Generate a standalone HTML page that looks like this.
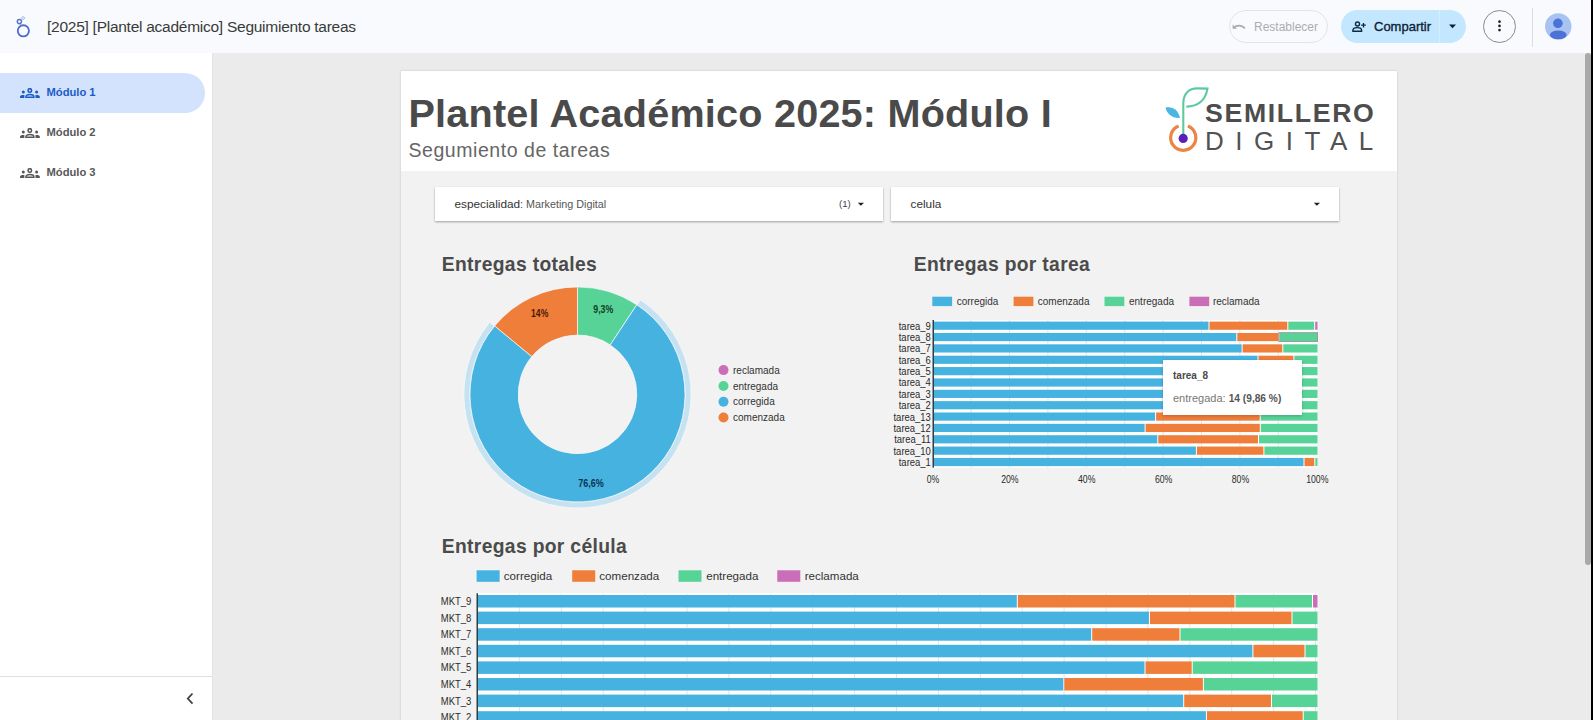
<!DOCTYPE html>
<html><head><meta charset="utf-8"><style>
*{box-sizing:border-box;margin:0;padding:0}
html,body{width:1593px;height:720px;overflow:hidden;background:#ebebeb;font-family:"Liberation Sans",sans-serif;}
.abs{position:absolute}
svg text{font-family:"Liberation Sans",sans-serif;}
.t{position:absolute;white-space:nowrap;line-height:1}
</style></head><body>
<!-- header -->
<div class="abs" style="left:0;top:0;width:1593px;height:53px;background:#f8fafd"></div>
<svg class="abs" style="left:0;top:0" width="60" height="53">
  <circle cx="23.35" cy="30.85" r="5.6" fill="none" stroke="#4a6bcc" stroke-width="1.8"/>
  <line x1="20.6" y1="23.9" x2="21.6" y2="25.4" stroke="#8aa6e0" stroke-width="1"/>
  <circle cx="19.4" cy="21.6" r="2.1" fill="none" stroke="#5a70c2" stroke-width="1.4"/>
  <circle cx="23.1" cy="18.05" r="1.35" fill="none" stroke="#9cc0ea" stroke-width="1"/>
</svg>
<div class="t" style="left:47px;top:18.8px;font-size:15.5px;letter-spacing:-0.26px;color:#3a3a3a">[2025] [Plantel académico] Seguimiento tareas</div>

<div class="abs" style="left:1229px;top:10px;width:99px;height:33px;border:1px solid #e3e3e6;border-radius:17px"></div>
<svg class="abs" style="left:1230px;top:19px" width="18" height="16" viewBox="0 0 18 16">
  <path d="M4.2 8.3 C7 5.8 11.5 5.8 15 9.3" fill="none" stroke="#ababab" stroke-width="1.8"/>
  <path d="M2.6 5.6 L2.6 9.8 L7 9.8 Z" fill="#ababab"/>
</svg>
<div class="t" style="left:1254px;top:21px;font-size:12px;color:#adadad">Restablecer</div>

<div class="abs" style="left:1341px;top:10px;width:125px;height:33px;background:#c2e7ff;border-radius:17px"></div>
<div class="abs" style="left:1439px;top:10px;width:1px;height:33px;background:#d6efff"></div>
<svg class="abs" style="left:1350px;top:18px" width="18" height="16" viewBox="0 0 18 16">
  <circle cx="7.5" cy="6" r="2" fill="none" stroke="#0e2a40" stroke-width="1.4"/>
  <path d="M2.9 13.3 L2.9 12.3 C2.9 10.5 5 9.6 7.3 9.6 C9.6 9.6 11.6 10.5 11.6 12.3 L11.6 13.3 Z" fill="none" stroke="#0e2a40" stroke-width="1.4"/>
  <path d="M13.5 4.9 L13.5 9.5 M11.2 7.2 L15.8 7.2" stroke="#0e2a40" stroke-width="1.3"/>
</svg>
<div class="t" style="left:1374px;top:19.5px;font-size:13px;color:#0e2236;font-weight:400;-webkit-text-stroke:0.35px #0e2236">Compartir</div>
<svg class="abs" style="left:1447px;top:23px" width="12" height="6"><path d="M2 1.6 L9 1.6 L5.5 5.2 Z" fill="#0e2236"/></svg>

<div class="abs" style="left:1483px;top:10px;width:33px;height:33px;border:1px solid #8a8a8a;border-radius:50%"></div>
<svg class="abs" style="left:1490px;top:15px" width="20" height="22">
  <circle cx="9.5" cy="6.7" r="1.35" fill="#222"/><circle cx="9.5" cy="10.9" r="1.35" fill="#222"/><circle cx="9.5" cy="15.1" r="1.35" fill="#222"/>
</svg>
<div class="abs" style="left:1532px;top:8px;width:1px;height:39px;background:#dcdde0"></div>
<svg class="abs" style="left:1540px;top:8px" width="36" height="36" viewBox="1540 8 36 36">
  <circle cx="1558.25" cy="26.4" r="13.2" fill="#a8c3f2"/>
  <circle cx="1557.9" cy="23.3" r="4.8" fill="#4a72d8"/>
  <ellipse cx="1558.25" cy="34.8" rx="8.4" ry="4.4" fill="#4a72d8"/>
</svg>

<!-- sidebar -->
<div class="abs" style="left:0;top:53px;width:212px;height:667px;background:#fff"></div>
<div class="abs" style="left:212px;top:53px;width:1px;height:667px;background:#e3e3e3"></div>
<div class="abs" style="left:0;top:73px;width:205px;height:40px;background:#d3e3fd;border-radius:0 20px 20px 0"></div>
<svg class="abs" style="left:20px;top:87.8px" width="20" height="11" viewBox="0 0 20 11">
  <circle cx="9.8" cy="2.4" r="1.75" fill="none" stroke="#1b5bc6" stroke-width="1.5"/>
  <path d="M5.9 9.3 L5.9 8.9 C5.9 7.2 7.7 6.6 9.9 6.6 C12.1 6.6 13.9 7.2 13.9 8.9 L13.9 9.3 Z" fill="none" stroke="#1b5bc6" stroke-width="1.5"/>
  <circle cx="3.3" cy="3.9" r="1.5" fill="#1b5bc6"/><path d="M0 10 L0 8.7 C0 7.6 1.3 7.1 3.3 7.1 L4.4 7.1 L4.4 10 Z" fill="#1b5bc6"/>
  <circle cx="16.6" cy="3.9" r="1.5" fill="#1b5bc6"/><path d="M19.8 10 L19.8 8.7 C19.8 7.6 18.5 7.1 16.6 7.1 L15.5 7.1 L15.5 10 Z" fill="#1b5bc6"/>
</svg><div class="t" style="left:46.5px;top:87.0px;font-size:11.2px;font-weight:700;color:#1b5bc6">Módulo 1</div>
<svg class="abs" style="left:20px;top:127.8px" width="20" height="11" viewBox="0 0 20 11">
  <circle cx="9.8" cy="2.4" r="1.75" fill="none" stroke="#585858" stroke-width="1.5"/>
  <path d="M5.9 9.3 L5.9 8.9 C5.9 7.2 7.7 6.6 9.9 6.6 C12.1 6.6 13.9 7.2 13.9 8.9 L13.9 9.3 Z" fill="none" stroke="#585858" stroke-width="1.5"/>
  <circle cx="3.3" cy="3.9" r="1.5" fill="#585858"/><path d="M0 10 L0 8.7 C0 7.6 1.3 7.1 3.3 7.1 L4.4 7.1 L4.4 10 Z" fill="#585858"/>
  <circle cx="16.6" cy="3.9" r="1.5" fill="#585858"/><path d="M19.8 10 L19.8 8.7 C19.8 7.6 18.5 7.1 16.6 7.1 L15.5 7.1 L15.5 10 Z" fill="#585858"/>
</svg><div class="t" style="left:46.5px;top:127.0px;font-size:11.2px;font-weight:700;color:#585858">Módulo 2</div>
<svg class="abs" style="left:20px;top:167.79999999999998px" width="20" height="11" viewBox="0 0 20 11">
  <circle cx="9.8" cy="2.4" r="1.75" fill="none" stroke="#585858" stroke-width="1.5"/>
  <path d="M5.9 9.3 L5.9 8.9 C5.9 7.2 7.7 6.6 9.9 6.6 C12.1 6.6 13.9 7.2 13.9 8.9 L13.9 9.3 Z" fill="none" stroke="#585858" stroke-width="1.5"/>
  <circle cx="3.3" cy="3.9" r="1.5" fill="#585858"/><path d="M0 10 L0 8.7 C0 7.6 1.3 7.1 3.3 7.1 L4.4 7.1 L4.4 10 Z" fill="#585858"/>
  <circle cx="16.6" cy="3.9" r="1.5" fill="#585858"/><path d="M19.8 10 L19.8 8.7 C19.8 7.6 18.5 7.1 16.6 7.1 L15.5 7.1 L15.5 10 Z" fill="#585858"/>
</svg><div class="t" style="left:46.5px;top:167.0px;font-size:11.2px;font-weight:700;color:#585858">Módulo 3</div>
<div class="abs" style="left:0;top:676px;width:212px;height:1px;background:#e0e0e0"></div>
<svg class="abs" style="left:184px;top:690px" width="12" height="16"><path d="M8.5 3.5 L3.8 8.6 L8.5 13.7" fill="none" stroke="#444" stroke-width="1.8"/></svg>

<!-- scrollbar -->
<div class="abs" style="left:1591px;top:0;width:2px;height:720px;background:#000"></div>
<div class="abs" style="left:1585px;top:53px;width:5.5px;height:512px;background:#a9a9a9;border-radius:3px"></div>

<!-- canvas -->
<div class="abs" style="left:401px;top:71px;width:996px;height:660px;background:#f2f2f2;box-shadow:0 0 2px rgba(0,0,0,0.18)"></div>
<div class="abs" style="left:401px;top:71px;width:996px;height:100px;background:#fff"></div>
<div class="t" style="left:408.5px;top:94px;font-size:39.6px;letter-spacing:0.22px;font-weight:700;color:#4a4a4a">Plantel Académico 2025: Módulo I</div>
<div class="t" style="left:408.5px;top:140.5px;font-size:19.5px;color:#666;letter-spacing:0.55px">Segumiento de tareas</div>
<svg class="abs" style="left:1150px;top:80px" width="240" height="85" viewBox="1150 80 240 85">
  <path d="M1183.3 134 L1183.3 103.5 C1183.3 93 1189.5 88.2 1197.5 88.4 L1207.5 88.6 C1205.5 100 1199 106.3 1186.3 106.6" fill="none" stroke="#5ccaa0" stroke-width="2.1"/>
  <path d="M1165.5 107.5 C1172 106 1178 109 1180 118 C1172 118.5 1167 114 1165.5 107.5 Z" fill="#4bb6e0"/>
  <path d="M1178.6 126 A12.6 12.6 0 1 0 1187.9 126" fill="none" stroke="#ec8444" stroke-width="3.2"/>
  <circle cx="1183.2" cy="138.4" r="4.6" fill="#5a1fb8"/>
</svg>
<div class="t" style="left:1205px;top:99.7px;font-size:26.7px;font-weight:700;color:#4d4d4d;letter-spacing:1.65px">SEMILLERO</div>
<div class="t" style="left:1205px;top:127.7px;font-size:26px;font-weight:400;color:#525252;letter-spacing:11.5px">DIGITAL</div>

<!-- filters -->
<div class="abs" style="left:435px;top:187px;width:448px;height:34px;background:#fff;box-shadow:0 1px 2px rgba(0,0,0,0.35)"></div>
<div class="abs" style="left:891px;top:187px;width:448px;height:34px;background:#fff;box-shadow:0 1px 2px rgba(0,0,0,0.35)"></div>
<div class="t" style="left:454.5px;top:199px;font-size:11.8px;color:#333">especialidad<span style="font-size:10.75px;color:#555">: Marketing Digital</span></div>
<div class="t" style="left:839px;top:199px;font-size:9.6px;color:#444">(1)</div>
<svg class="abs" style="left:857px;top:202px" width="8" height="5"><path d="M0.8 0.8 L7 0.8 L3.9 3.8 Z" fill="#222"/></svg>
<div class="t" style="left:910.5px;top:198.8px;font-size:11.8px;color:#333">celula</div>
<svg class="abs" style="left:1313px;top:202px" width="8" height="5"><path d="M0.8 0.8 L7 0.8 L3.9 3.8 Z" fill="#222"/></svg>

<!-- section titles -->
<div class="t" style="left:441.8px;top:254.6px;font-size:19.3px;letter-spacing:0.33px;font-weight:700;color:#4b4b4b">Entregas totales</div>
<div class="t" style="left:913.8px;top:254.6px;font-size:19.3px;letter-spacing:0.33px;font-weight:700;color:#4b4b4b">Entregas por tarea</div>
<div class="t" style="left:441.8px;top:536.6px;font-size:19.3px;letter-spacing:0.33px;font-weight:700;color:#4b4b4b">Entregas por célula</div>
<svg class="abs" style="left:0;top:0" width="1593" height="720" viewBox="0 0 1593 720"><path d="M640.50,299.87 A113.6,113.6 0 1 1 489.72,322.29 L494.35,326.10 A107.6,107.6 0 1 0 637.17,304.86 Z" fill="#c6e2f0" stroke="#f7fbfd" stroke-width="0.7"/><path d="M577.50,286.90 A107.5,107.5 0 0 1 636.80,304.74 L610.21,344.94 A59.3,59.3 0 0 0 577.50,335.10 Z" fill="#58d398" stroke="#f7fbfd" stroke-width="0.7"/><path d="M636.80,304.74 A107.5,107.5 0 1 1 494.67,325.88 L531.81,356.60 A59.3,59.3 0 1 0 610.21,344.94 Z" fill="#45b2e0" stroke="#f7fbfd" stroke-width="0.7"/><path d="M494.67,325.88 A107.5,107.5 0 0 1 577.50,286.90 L577.50,335.10 A59.3,59.3 0 0 0 531.81,356.60 Z" fill="#ef7e3a" stroke="#f7fbfd" stroke-width="0.7"/><text x="603.3" y="312.6" font-size="10" fill="#123d22" font-weight="700" text-anchor="middle" textLength="20" lengthAdjust="spacingAndGlyphs">9,3%</text><text x="539.7" y="317.3" font-size="10" fill="#4a1a05" font-weight="700" text-anchor="middle" textLength="17.2" lengthAdjust="spacingAndGlyphs">14%</text><text x="590.9" y="487.1" font-size="10" fill="#0b3350" font-weight="700" text-anchor="middle" textLength="25.5" lengthAdjust="spacingAndGlyphs">76,6%</text><circle cx="723.5" cy="370.1" r="5" fill="#cb6eb8"/><text x="733" y="373.6" font-size="10" fill="#333" font-weight="400" text-anchor="start" >reclamada</text><circle cx="723.5" cy="386" r="5" fill="#58d398"/><text x="733" y="389.5" font-size="10" fill="#333" font-weight="400" text-anchor="start" >entregada</text><circle cx="723.5" cy="401.7" r="5" fill="#45b2e0"/><text x="733" y="405.2" font-size="10" fill="#333" font-weight="400" text-anchor="start" >corregida</text><circle cx="723.5" cy="417.5" r="5" fill="#ef7e3a"/><text x="733" y="421.0" font-size="10" fill="#333" font-weight="400" text-anchor="start" >comenzada</text><rect x="934" y="320.10" width="383.50" height="11.20" fill="#ffffff"/><rect x="934" y="331.46" width="383.50" height="11.20" fill="#ffffff"/><rect x="934" y="342.82" width="383.50" height="11.20" fill="#ffffff"/><rect x="934" y="354.18" width="383.50" height="11.20" fill="#ffffff"/><rect x="934" y="365.54" width="383.50" height="11.20" fill="#ffffff"/><rect x="934" y="376.90" width="383.50" height="11.20" fill="#ffffff"/><rect x="934" y="388.26" width="383.50" height="11.20" fill="#ffffff"/><rect x="934" y="399.62" width="383.50" height="11.20" fill="#ffffff"/><rect x="934" y="410.98" width="383.50" height="11.20" fill="#ffffff"/><rect x="934" y="422.34" width="383.50" height="11.20" fill="#ffffff"/><rect x="934" y="433.70" width="383.50" height="11.20" fill="#ffffff"/><rect x="934" y="445.06" width="383.50" height="11.20" fill="#ffffff"/><rect x="934" y="456.42" width="383.50" height="11.20" fill="#ffffff"/><line x1="971.10" y1="320" x2="971.10" y2="467.6" stroke="#e4e4e4" stroke-width="1"/><line x1="1009.50" y1="320" x2="1009.50" y2="467.6" stroke="#e4e4e4" stroke-width="1"/><line x1="1047.90" y1="320" x2="1047.90" y2="467.6" stroke="#e4e4e4" stroke-width="1"/><line x1="1086.30" y1="320" x2="1086.30" y2="467.6" stroke="#e4e4e4" stroke-width="1"/><line x1="1124.70" y1="320" x2="1124.70" y2="467.6" stroke="#e4e4e4" stroke-width="1"/><line x1="1163.10" y1="320" x2="1163.10" y2="467.6" stroke="#e4e4e4" stroke-width="1"/><line x1="1201.50" y1="320" x2="1201.50" y2="467.6" stroke="#e4e4e4" stroke-width="1"/><line x1="1239.90" y1="320" x2="1239.90" y2="467.6" stroke="#e4e4e4" stroke-width="1"/><line x1="1278.30" y1="320" x2="1278.30" y2="467.6" stroke="#e4e4e4" stroke-width="1"/><rect x="934.00" y="321.60" width="274.50" height="8.2" fill="#45b2e0"/><rect x="1209.50" y="321.60" width="77.80" height="8.2" fill="#ef7e3a"/><rect x="1288.30" y="321.60" width="25.90" height="8.2" fill="#58d398"/><rect x="1315.20" y="321.60" width="2.30" height="8.2" fill="#cb6eb8"/><text x="930.8" y="329.69000000000005" font-size="10.5" fill="#2a2a2a" font-weight="400" text-anchor="end" textLength="32.05" lengthAdjust="spacingAndGlyphs">tarea_9</text><rect x="934.00" y="332.96" width="302.30" height="8.2" fill="#45b2e0"/><rect x="1237.30" y="332.96" width="41.30" height="8.2" fill="#ef7e3a"/><rect x="1279.60" y="332.96" width="37.90" height="8.2" fill="#58d398"/><text x="930.8" y="341.05000000000007" font-size="10.5" fill="#2a2a2a" font-weight="400" text-anchor="end" textLength="32.05" lengthAdjust="spacingAndGlyphs">tarea_8</text><rect x="934.00" y="344.32" width="307.60" height="8.2" fill="#45b2e0"/><rect x="1242.60" y="344.32" width="39.70" height="8.2" fill="#ef7e3a"/><rect x="1283.30" y="344.32" width="34.20" height="8.2" fill="#58d398"/><text x="930.8" y="352.4100000000001" font-size="10.5" fill="#2a2a2a" font-weight="400" text-anchor="end" textLength="32.05" lengthAdjust="spacingAndGlyphs">tarea_7</text><rect x="934.00" y="355.68" width="323.50" height="8.2" fill="#45b2e0"/><rect x="1258.50" y="355.68" width="34.90" height="8.2" fill="#ef7e3a"/><rect x="1294.40" y="355.68" width="23.10" height="8.2" fill="#58d398"/><text x="930.8" y="363.77000000000004" font-size="10.5" fill="#2a2a2a" font-weight="400" text-anchor="end" textLength="32.05" lengthAdjust="spacingAndGlyphs">tarea_6</text><rect x="934.00" y="367.04" width="316.00" height="8.2" fill="#45b2e0"/><rect x="1251.00" y="367.04" width="39.00" height="8.2" fill="#ef7e3a"/><rect x="1291.00" y="367.04" width="26.50" height="8.2" fill="#58d398"/><text x="930.8" y="375.13000000000005" font-size="10.5" fill="#2a2a2a" font-weight="400" text-anchor="end" textLength="32.05" lengthAdjust="spacingAndGlyphs">tarea_5</text><rect x="934.00" y="378.40" width="316.00" height="8.2" fill="#45b2e0"/><rect x="1251.00" y="378.40" width="39.00" height="8.2" fill="#ef7e3a"/><rect x="1291.00" y="378.40" width="26.50" height="8.2" fill="#58d398"/><text x="930.8" y="386.49000000000007" font-size="10.5" fill="#2a2a2a" font-weight="400" text-anchor="end" textLength="32.05" lengthAdjust="spacingAndGlyphs">tarea_4</text><rect x="934.00" y="389.76" width="316.00" height="8.2" fill="#45b2e0"/><rect x="1251.00" y="389.76" width="39.00" height="8.2" fill="#ef7e3a"/><rect x="1291.00" y="389.76" width="26.50" height="8.2" fill="#58d398"/><text x="930.8" y="397.85" font-size="10.5" fill="#2a2a2a" font-weight="400" text-anchor="end" textLength="32.05" lengthAdjust="spacingAndGlyphs">tarea_3</text><rect x="934.00" y="401.12" width="316.00" height="8.2" fill="#45b2e0"/><rect x="1251.00" y="401.12" width="39.00" height="8.2" fill="#ef7e3a"/><rect x="1291.00" y="401.12" width="26.50" height="8.2" fill="#58d398"/><text x="930.8" y="409.21000000000004" font-size="10.5" fill="#2a2a2a" font-weight="400" text-anchor="end" textLength="32.05" lengthAdjust="spacingAndGlyphs">tarea_2</text><rect x="934.00" y="412.48" width="221.10" height="8.2" fill="#45b2e0"/><rect x="1156.10" y="412.48" width="103.60" height="8.2" fill="#ef7e3a"/><rect x="1260.70" y="412.48" width="56.80" height="8.2" fill="#58d398"/><text x="930.8" y="420.57000000000005" font-size="10.5" fill="#2a2a2a" font-weight="400" text-anchor="end" textLength="37.30" lengthAdjust="spacingAndGlyphs">tarea_13</text><rect x="934.00" y="423.84" width="210.60" height="8.2" fill="#45b2e0"/><rect x="1145.60" y="423.84" width="114.20" height="8.2" fill="#ef7e3a"/><rect x="1260.80" y="423.84" width="56.70" height="8.2" fill="#58d398"/><text x="930.8" y="431.93000000000006" font-size="10.5" fill="#2a2a2a" font-weight="400" text-anchor="end" textLength="37.30" lengthAdjust="spacingAndGlyphs">tarea_12</text><rect x="934.00" y="435.20" width="223.30" height="8.2" fill="#45b2e0"/><rect x="1158.30" y="435.20" width="99.70" height="8.2" fill="#ef7e3a"/><rect x="1259.00" y="435.20" width="58.50" height="8.2" fill="#58d398"/><text x="930.8" y="443.2900000000001" font-size="10.5" fill="#2a2a2a" font-weight="400" text-anchor="end" textLength="36.60" lengthAdjust="spacingAndGlyphs">tarea_11</text><rect x="934.00" y="446.56" width="261.90" height="8.2" fill="#45b2e0"/><rect x="1196.90" y="446.56" width="66.50" height="8.2" fill="#ef7e3a"/><rect x="1264.40" y="446.56" width="53.10" height="8.2" fill="#58d398"/><text x="930.8" y="454.65000000000003" font-size="10.5" fill="#2a2a2a" font-weight="400" text-anchor="end" textLength="37.30" lengthAdjust="spacingAndGlyphs">tarea_10</text><rect x="934.00" y="457.92" width="369.50" height="8.2" fill="#45b2e0"/><rect x="1304.50" y="457.92" width="9.80" height="8.2" fill="#ef7e3a"/><rect x="1315.30" y="457.92" width="2.20" height="8.2" fill="#58d398"/><text x="930.8" y="466.01000000000005" font-size="10.5" fill="#2a2a2a" font-weight="400" text-anchor="end" textLength="32.05" lengthAdjust="spacingAndGlyphs">tarea_1</text><rect x="932.5" y="320" width="1.5" height="147.60000000000002" fill="#2f3f48"/><rect x="1279.1" y="332.66" width="38.4" height="8.8" fill="none" stroke="#9a9a9a" stroke-width="1"/><text x="933.0" y="482.6" font-size="10" fill="#2a2a2a" font-weight="400" text-anchor="middle" textLength="12.57" lengthAdjust="spacingAndGlyphs">0%</text><text x="1009.86" y="482.6" font-size="10" fill="#2a2a2a" font-weight="400" text-anchor="middle" textLength="17.41" lengthAdjust="spacingAndGlyphs">20%</text><text x="1086.72" y="482.6" font-size="10" fill="#2a2a2a" font-weight="400" text-anchor="middle" textLength="17.41" lengthAdjust="spacingAndGlyphs">40%</text><text x="1163.58" y="482.6" font-size="10" fill="#2a2a2a" font-weight="400" text-anchor="middle" textLength="17.41" lengthAdjust="spacingAndGlyphs">60%</text><text x="1240.44" y="482.6" font-size="10" fill="#2a2a2a" font-weight="400" text-anchor="middle" textLength="17.41" lengthAdjust="spacingAndGlyphs">80%</text><text x="1317.3" y="482.6" font-size="10" fill="#2a2a2a" font-weight="400" text-anchor="middle" textLength="22.25" lengthAdjust="spacingAndGlyphs">100%</text><rect x="932.3" y="296.7" width="19.8" height="9.4" fill="#45b2e0"/><text x="956.7" y="305" font-size="10" fill="#333" font-weight="400" text-anchor="start" >corregida</text><rect x="1013.6" y="296.7" width="19.8" height="9.4" fill="#ef7e3a"/><text x="1037.8" y="305" font-size="10" fill="#333" font-weight="400" text-anchor="start" >comenzada</text><rect x="1104.5" y="296.7" width="19.8" height="9.4" fill="#58d398"/><text x="1129" y="305" font-size="10" fill="#333" font-weight="400" text-anchor="start" >entregada</text><rect x="1189.4" y="296.7" width="19.8" height="9.4" fill="#cb6eb8"/><text x="1212.9" y="305" font-size="10" fill="#333" font-weight="400" text-anchor="start" >reclamada</text><rect x="478" y="592.90" width="839.50" height="16.70" fill="#ffffff"/><rect x="478" y="609.50" width="839.50" height="16.70" fill="#ffffff"/><rect x="478" y="626.10" width="839.50" height="16.70" fill="#ffffff"/><rect x="478" y="642.70" width="839.50" height="16.70" fill="#ffffff"/><rect x="478" y="659.30" width="839.50" height="16.70" fill="#ffffff"/><rect x="478" y="675.90" width="839.50" height="16.70" fill="#ffffff"/><rect x="478" y="692.50" width="839.50" height="16.70" fill="#ffffff"/><rect x="478" y="709.10" width="839.50" height="16.70" fill="#ffffff"/><line x1="519.40" y1="593.3" x2="519.40" y2="720" stroke="#e4e4e4" stroke-width="1"/><line x1="561.30" y1="593.3" x2="561.30" y2="720" stroke="#e4e4e4" stroke-width="1"/><line x1="603.20" y1="593.3" x2="603.20" y2="720" stroke="#e4e4e4" stroke-width="1"/><line x1="645.10" y1="593.3" x2="645.10" y2="720" stroke="#e4e4e4" stroke-width="1"/><line x1="687.00" y1="593.3" x2="687.00" y2="720" stroke="#e4e4e4" stroke-width="1"/><line x1="728.90" y1="593.3" x2="728.90" y2="720" stroke="#e4e4e4" stroke-width="1"/><line x1="770.80" y1="593.3" x2="770.80" y2="720" stroke="#e4e4e4" stroke-width="1"/><line x1="812.70" y1="593.3" x2="812.70" y2="720" stroke="#e4e4e4" stroke-width="1"/><line x1="854.60" y1="593.3" x2="854.60" y2="720" stroke="#e4e4e4" stroke-width="1"/><line x1="896.50" y1="593.3" x2="896.50" y2="720" stroke="#e4e4e4" stroke-width="1"/><line x1="938.40" y1="593.3" x2="938.40" y2="720" stroke="#e4e4e4" stroke-width="1"/><line x1="980.30" y1="593.3" x2="980.30" y2="720" stroke="#e4e4e4" stroke-width="1"/><line x1="1022.20" y1="593.3" x2="1022.20" y2="720" stroke="#e4e4e4" stroke-width="1"/><line x1="1064.10" y1="593.3" x2="1064.10" y2="720" stroke="#e4e4e4" stroke-width="1"/><line x1="1106.00" y1="593.3" x2="1106.00" y2="720" stroke="#e4e4e4" stroke-width="1"/><line x1="1147.90" y1="593.3" x2="1147.90" y2="720" stroke="#e4e4e4" stroke-width="1"/><line x1="1189.80" y1="593.3" x2="1189.80" y2="720" stroke="#e4e4e4" stroke-width="1"/><line x1="1231.70" y1="593.3" x2="1231.70" y2="720" stroke="#e4e4e4" stroke-width="1"/><line x1="1273.60" y1="593.3" x2="1273.60" y2="720" stroke="#e4e4e4" stroke-width="1"/><line x1="1315.50" y1="593.3" x2="1315.50" y2="720" stroke="#e4e4e4" stroke-width="1"/><rect x="478.00" y="595.00" width="538.80" height="12.5" fill="#45b2e0"/><rect x="1017.80" y="595.00" width="216.70" height="12.5" fill="#ef7e3a"/><rect x="1235.50" y="595.00" width="76.50" height="12.5" fill="#58d398"/><rect x="1313.00" y="595.00" width="4.50" height="12.5" fill="#cb6eb8"/><text x="471.4" y="604.95" font-size="10" fill="#2a2a2a" font-weight="400" text-anchor="end" textLength="30.62" lengthAdjust="spacingAndGlyphs">MKT_9</text><rect x="478.00" y="611.60" width="670.90" height="12.5" fill="#45b2e0"/><rect x="1149.90" y="611.60" width="141.60" height="12.5" fill="#ef7e3a"/><rect x="1292.50" y="611.60" width="25.00" height="12.5" fill="#58d398"/><text x="471.4" y="621.5500000000001" font-size="10" fill="#2a2a2a" font-weight="400" text-anchor="end" textLength="30.62" lengthAdjust="spacingAndGlyphs">MKT_8</text><rect x="478.00" y="628.20" width="613.20" height="12.5" fill="#45b2e0"/><rect x="1092.20" y="628.20" width="87.30" height="12.5" fill="#ef7e3a"/><rect x="1180.50" y="628.20" width="137.00" height="12.5" fill="#58d398"/><text x="471.4" y="638.1500000000001" font-size="10" fill="#2a2a2a" font-weight="400" text-anchor="end" textLength="30.62" lengthAdjust="spacingAndGlyphs">MKT_7</text><rect x="478.00" y="644.80" width="774.40" height="12.5" fill="#45b2e0"/><rect x="1253.40" y="644.80" width="51.10" height="12.5" fill="#ef7e3a"/><rect x="1305.50" y="644.80" width="12.00" height="12.5" fill="#58d398"/><text x="471.4" y="654.75" font-size="10" fill="#2a2a2a" font-weight="400" text-anchor="end" textLength="30.62" lengthAdjust="spacingAndGlyphs">MKT_6</text><rect x="478.00" y="661.40" width="666.50" height="12.5" fill="#45b2e0"/><rect x="1145.50" y="661.40" width="46.20" height="12.5" fill="#ef7e3a"/><rect x="1192.70" y="661.40" width="124.80" height="12.5" fill="#58d398"/><text x="471.4" y="671.35" font-size="10" fill="#2a2a2a" font-weight="400" text-anchor="end" textLength="30.62" lengthAdjust="spacingAndGlyphs">MKT_5</text><rect x="478.00" y="678.00" width="585.30" height="12.5" fill="#45b2e0"/><rect x="1064.30" y="678.00" width="138.60" height="12.5" fill="#ef7e3a"/><rect x="1203.90" y="678.00" width="113.60" height="12.5" fill="#58d398"/><text x="471.4" y="687.95" font-size="10" fill="#2a2a2a" font-weight="400" text-anchor="end" textLength="30.62" lengthAdjust="spacingAndGlyphs">MKT_4</text><rect x="478.00" y="694.60" width="705.20" height="12.5" fill="#45b2e0"/><rect x="1184.20" y="694.60" width="86.80" height="12.5" fill="#ef7e3a"/><rect x="1272.00" y="694.60" width="45.50" height="12.5" fill="#58d398"/><text x="471.4" y="704.5500000000001" font-size="10" fill="#2a2a2a" font-weight="400" text-anchor="end" textLength="30.62" lengthAdjust="spacingAndGlyphs">MKT_3</text><rect x="478.00" y="711.20" width="727.90" height="12.5" fill="#45b2e0"/><rect x="1206.90" y="711.20" width="95.80" height="12.5" fill="#ef7e3a"/><rect x="1303.70" y="711.20" width="13.80" height="12.5" fill="#58d398"/><text x="471.4" y="721.1500000000001" font-size="10" fill="#2a2a2a" font-weight="400" text-anchor="end" textLength="30.62" lengthAdjust="spacingAndGlyphs">MKT_2</text><rect x="476.5" y="593.3" width="1.5" height="126.70000000000005" fill="#2f3f48"/><rect x="476.6" y="570.3" width="23" height="11.5" fill="#45b2e0"/><text x="503.8" y="580.2" font-size="11.6" fill="#333" font-weight="400" text-anchor="start" >corregida</text><rect x="572.2" y="570.3" width="23" height="11.5" fill="#ef7e3a"/><text x="599.3" y="580.2" font-size="11.6" fill="#333" font-weight="400" text-anchor="start" >comenzada</text><rect x="678.5" y="570.3" width="23" height="11.5" fill="#58d398"/><text x="706.2" y="580.2" font-size="11.6" fill="#333" font-weight="400" text-anchor="start" >entregada</text><rect x="777.3" y="570.3" width="23" height="11.5" fill="#cb6eb8"/><text x="804.7" y="580.2" font-size="11.6" fill="#333" font-weight="400" text-anchor="start" >reclamada</text></svg>
<!-- tooltip -->
<div class="abs" style="left:1163px;top:360px;width:138.5px;height:54.5px;background:#fff;box-shadow:0 1px 3px rgba(0,0,0,0.22)"></div>
<div class="t" style="left:1173px;top:371px;font-size:10px;font-weight:700;color:#4a4a4a">tarea_8</div>
<div class="t" style="left:1173px;top:393px;font-size:11px;color:#777">entregada: <b style="font-size:10.2px;color:#555">14 (9,86 %)</b></div>
</body></html>
